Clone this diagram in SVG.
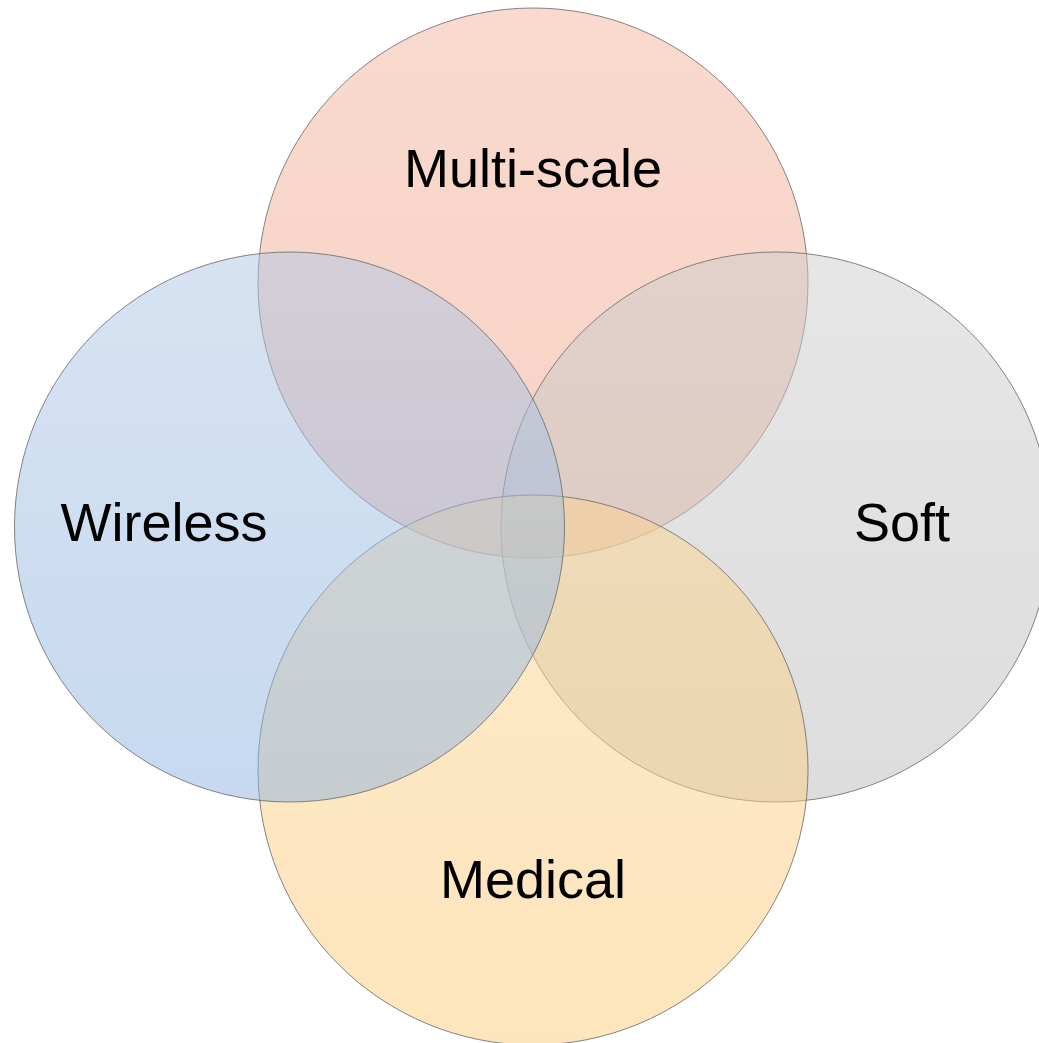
<svg xmlns="http://www.w3.org/2000/svg" width="1039" height="1043" viewBox="0 0 1039 1043">
  <style>
    .c { stroke: #6f6f6f; stroke-width: 1; stroke-opacity: 0.85; fill-opacity: 0.5; }
    .t { font-family: "Liberation Sans", Arial, sans-serif; font-size: 54px; fill: #000; text-anchor: middle; }
  </style>
  <defs>
    <linearGradient id="gTop" x1="0" y1="0" x2="0" y2="1">
      <stop offset="0" stop-color="#F3B59D"/>
      <stop offset="1" stop-color="#EFA589"/>
    </linearGradient>
    <linearGradient id="gLeft" x1="0" y1="0" x2="0" y2="1">
      <stop offset="0" stop-color="#AFC7E5"/>
      <stop offset="1" stop-color="#8DB3E1"/>
    </linearGradient>
    <linearGradient id="gRight" x1="0" y1="0" x2="0" y2="1">
      <stop offset="0" stop-color="#CDCDCD"/>
      <stop offset="1" stop-color="#BBBBBB"/>
    </linearGradient>
    <linearGradient id="gBottom" x1="0" y1="0" x2="0" y2="1">
      <stop offset="0" stop-color="#FDD591"/>
      <stop offset="1" stop-color="#FBCB79"/>
    </linearGradient>
  </defs>
  <rect width="1039" height="1043" fill="#ffffff"/>
  <g id="node-multiscale">
    <circle class="c" cx="533" cy="283" r="275" fill="url(#gTop)"/>
  </g>
  <g id="node-soft">
    <circle class="c" cx="776" cy="527" r="275" fill="url(#gRight)"/>
  </g>
  <g id="node-medical">
    <circle class="c" cx="533" cy="770" r="275" fill="url(#gBottom)"/>
  </g>
  <g id="node-wireless">
    <circle class="c" cx="289.5" cy="527" r="275" fill="url(#gLeft)"/>
  </g>
  <g id="labels">
    <text class="t" x="533" y="187">Multi-scale</text>
    <text class="t" x="164" y="541">Wireless</text>
    <text class="t" x="902" y="541">Soft</text>
    <text class="t" x="533" y="898">Medical</text>
  </g>
  <g id="connectors"></g>
</svg>
